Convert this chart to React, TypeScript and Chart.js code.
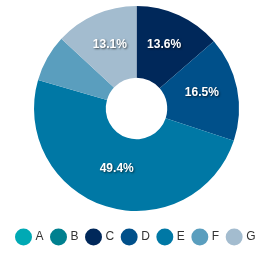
import React, { useEffect, useRef } from "react";
import { Chart, registerables } from "chart.js";

Chart.register(...registerables);

const categories = ["A", "B", "C", "D", "E", "F", "G"];
const values = [0, 0, 13.6, 16.5, 49.4, 7.4, 13.1];
const colors = ["#00A9B4", "#00808F", "#00285A", "#00508A", "#0078A5", "#5A9EBE", "#A3BCCF"];

const labelPlugin = {
  id: "sliceLabels",
  afterDatasetsDraw(chart: any) {
    const ctx = chart.ctx;
    const meta = chart.getDatasetMeta(0);
    const data = chart.data.datasets[0].data as number[];
    const total = data.reduce((a, b) => a + b, 0);
    ctx.save();
    ctx.font = "bold 12px 'Liberation Sans', Arial, sans-serif";
    ctx.fillStyle = "#ffffff";
    ctx.textAlign = "center";
    ctx.textBaseline = "middle";
    ctx.shadowColor = "rgba(0,0,0,0.6)";
    ctx.shadowBlur = 2;
    ctx.shadowOffsetX = 1;
    ctx.shadowOffsetY = 1;
    meta.data.forEach((arc: any, i: number) => {
      const pct = (data[i] / total) * 100;
      if (pct < 10) return;
      const p = arc.tooltipPosition();
      ctx.fillText(pct.toFixed(1) + "%", p.x, p.y - 3);
    });
    ctx.restore();
  },
};

const legendShift = {
  id: "legendShift",
  afterLayout(chart: any) {
    if (chart.legend) {
      chart.legend.top += 11;
      chart.legend.bottom += 11;
    }
  },
};

export default function App() {
  const ref = useRef<HTMLCanvasElement>(null);
  useEffect(() => {
    const chart = new Chart(ref.current!, {
      type: "doughnut",
      data: {
        labels: categories,
        datasets: [
          {
            data: values,
            backgroundColor: colors,
            borderWidth: 0,
          },
        ],
      },
      options: {
        animation: false,
        responsive: true,
        maintainAspectRatio: false,
        cutout: "30%",
        layout: { padding: { top: 6, bottom: 12 } },
        plugins: {
          tooltip: { enabled: false },
          legend: {
            position: "bottom",
            labels: {
              usePointStyle: true,
              pointStyle: "circle",
              boxWidth: 12,
              boxHeight: 12,
              padding: 9,
              color: "#333333",
              font: { size: 12, family: "'Liberation Sans', Arial, sans-serif" },
            },
          },
        },
      },
      plugins: [labelPlugin, legendShift],
    });
    return () => chart.destroy();
  }, []);
  return (
    <div style={{ position: "fixed", left: 0, top: 0, width: 273, height: 254 }}>
      <canvas ref={ref} />
    </div>
  );
}
